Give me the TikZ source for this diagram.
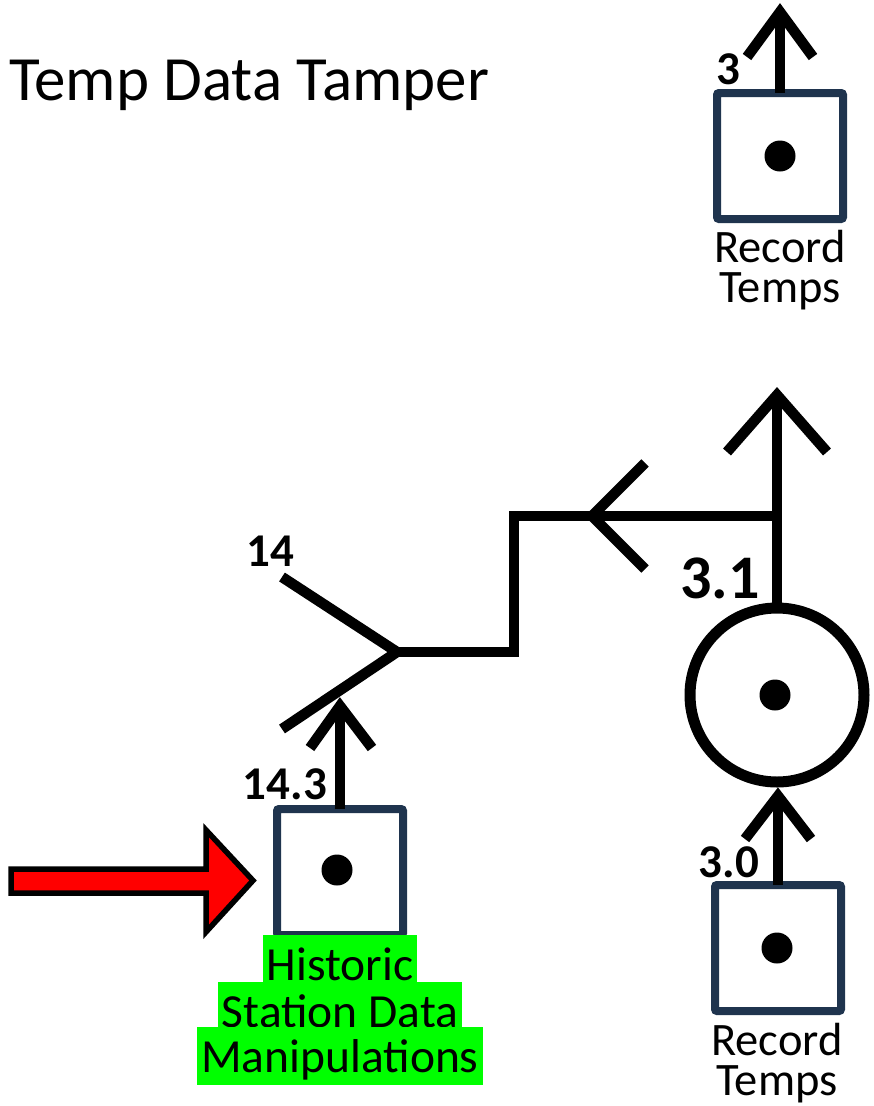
\documentclass[tikz,border=0pt]{standalone}
\usepackage{fontspec}
\setmainfont{Carlito}
\definecolor{boxnavy}{RGB}{31,52,78}
\definecolor{hlgreen}{RGB}{0,255,0}
\definecolor{arrowred}{RGB}{255,0,0}
\tikzset{
  dfdbox/.style={draw=boxnavy, line width=8pt, rounded corners=2pt, fill=white,
                 minimum size=126pt, inner sep=0pt, outer sep=0pt},
  procnode/.style={draw=black, line width=11pt, circle, minimum size=174pt, inner sep=0pt, outer sep=0pt},
  dotmark/.style={fill=black, circle, minimum size=31pt, inner sep=0pt},
  flowline/.style={draw=black, line width=10.5pt, line cap=butt, line join=miter},
  numlabel/.style={font=\fontsize{47}{50}\selectfont\bfseries, inner sep=0pt},
  boxtext/.style={font=\fontsize{46.5}{40}\selectfont, inner sep=0pt, anchor=base, align=center},
  greentext/.style={font=\fontsize{47.5}{50}\selectfont, fill=hlgreen, inner ysep=0pt, inner xsep=4pt,
                    text height=45pt, anchor=base},
}
\begin{document}
\begin{tikzpicture}[x=1pt,y=-1pt]
\useasboundingbox (0,0) rectangle (874,1106);

% title
\node[anchor=base west, inner sep=0pt, font=\fontsize{63}{72}\selectfont] (title) at (9,100) {Temp Data Tamper};

% boxes
\node[dfdbox] (boxtop) at (780,156) {};
\node[dotmark] (dottop) at (780,156) {};
\node[boxtext] (rtop) at (780,302) {Record\\Temps};

\node[dfdbox] (boxbr) at (778,948) {};
\node[dotmark] (dotbr) at (777,948) {};
\node[boxtext] (rbot) at (777,1095) {Record\\Temps};

\node[dfdbox] (boxbl) at (340,872) {};
\node[dotmark] (dotbl) at (337,870) {};
\node[greentext, text depth=2pt] (g1) at (340,980) {Historic};
\node[greentext, text depth=0pt] (g2) at (340,1027) {Station Data};
\node[greentext, text depth=13pt] (g3) at (340,1072) {Manipulations};

% process circle
\node[procnode] (proc) at (777,695) {};
\node[dotmark] (dotproc) at (775,695) {};

% coordinates
\coordinate (tipTop) at (780,12);
\coordinate (tipProc) at (777,395);
\coordinate (junc) at (777,516);
\coordinate (bend1) at (514,516);
\coordinate (bend2) at (514,652);
\coordinate (fork) at (397,652);
\coordinate (tipLeft) at (592,516);
\coordinate (tipBL) at (340,706);
\coordinate (tipBR) at (778,796);
\coordinate (forkUp) at (282,577);
\coordinate (forkDn) at (282,729);

% flows
\draw[flowline] (boxtop.north) -- (tipTop);
\draw[flowline] (747,57) -- (tipTop) -- (813,57);

\draw[flowline] (proc.north) -- (tipProc);
\draw[flowline] (727,452) -- (tipProc) -- (827,452);

\draw[flowline] (junc) -- (bend1) -- (bend2) -- (fork);
\draw[flowline] (645,463) -- (tipLeft) -- (645,569);

\draw[flowline] (forkUp) -- (fork) -- (forkDn);

\draw[flowline] (boxbl.north) -- (tipBL);
\draw[flowline] (310,748) -- (tipBL) -- (372,748);

\draw[flowline] (boxbr.north) -- (tipBR);
\draw[flowline] (745,839) -- (tipBR) -- (811,839);

% labels
\node[numlabel] (l3) at (728,69) {3};
\node[numlabel] (l14) at (270,551) {14};
\node[numlabel] (l143) at (285,784) {14.3};
\node[numlabel] (l30) at (729,862) {3.0};
\node[numlabel, font=\fontsize{62}{66}\selectfont\bfseries] (l31) at (720,578) {3.1};

% red block arrow
\draw[draw=black, fill=arrowred, line width=5.5pt, line join=miter]
  (11,869) -- (206,869) -- (206,830) -- (253,880.5) -- (206,932) -- (206,893) -- (11,893) -- cycle;
\end{tikzpicture}
\end{document}
